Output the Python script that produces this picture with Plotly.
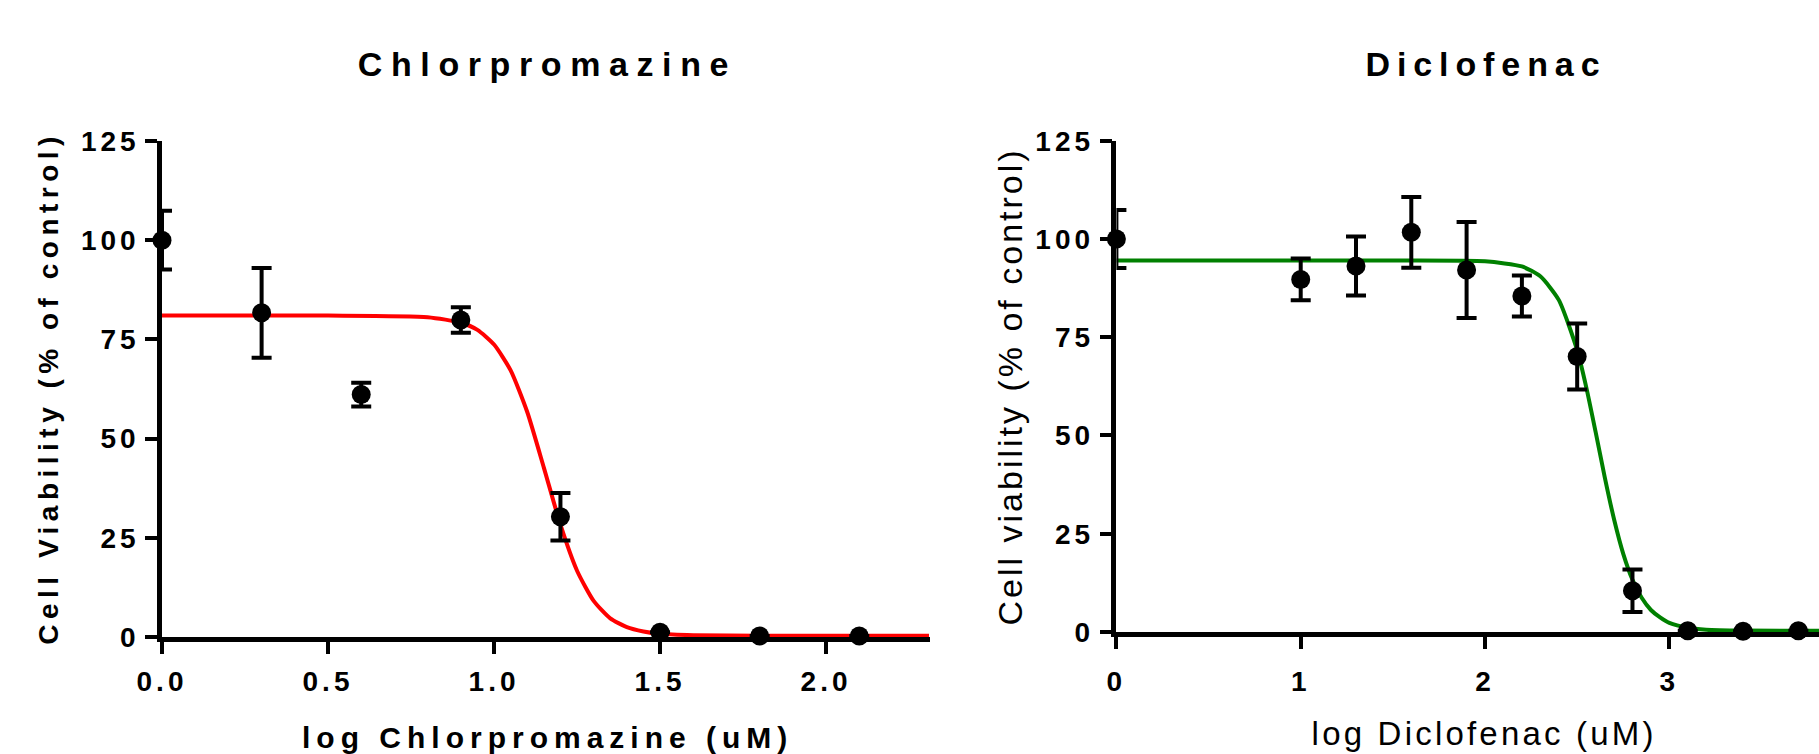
import plotly.graph_objects as go

# ---------------- data ----------------
chl_x = [0.0, 0.3, 0.6, 0.9, 1.2, 1.5, 1.8, 2.1]
chl_y = [100.0, 81.7, 61.1, 79.9, 30.3, 1.2, 0.25, 0.25]
chl_err = [7.4, 11.3, 3.0, 3.2, 6.0, 0.0, 0.0, 0.0]

chl_fit_x = [0.0, 0.5, 0.8, 0.9, 0.95, 1.0, 1.05, 1.1, 1.15, 1.2, 1.25, 1.3, 1.35, 1.4, 1.45, 1.5, 1.6, 1.8, 2.31]
chl_fit_y = [81.0, 81.0, 80.6, 79.2, 77.4, 73.7, 67.2, 56.7, 42.7, 28.3, 16.7, 9.1, 4.7, 2.5, 1.4, 0.8, 0.45, 0.32, 0.3]

dic_x = [0.0, 1.0, 1.3, 1.6, 1.9, 2.2, 2.5, 2.8, 3.1, 3.4, 3.7]
dic_y = [100.0, 89.7, 93.1, 101.7, 92.1, 85.5, 70.1, 10.5, 0.3, 0.2, 0.3]
dic_err = [7.4, 5.3, 7.5, 9.0, 12.2, 5.2, 8.4, 5.4, 0.0, 0.0, 0.0]

dic_fit_x = [0.0, 1.5, 2.0, 2.2, 2.3, 2.4, 2.5, 2.55, 2.6, 2.65, 2.7, 2.75, 2.8, 2.85, 2.9, 2.95, 3.0, 3.1, 3.2, 3.4, 3.82]
dic_fit_y = [94.5, 94.5, 94.3, 93.0, 90.5, 84.5, 71.7, 62.1, 50.9, 39.3, 28.7, 19.9, 13.3, 8.7, 5.6, 3.7, 2.3, 1.06, 0.58, 0.35, 0.3]

chl_xticks = [0.0, 0.5, 1.0, 1.5, 2.0]
chl_xtick_labels = ["0.0", "0.5", "1.0", "1.5", "2.0"]
dic_xticks = [0, 1, 2, 3]
dic_xtick_labels = ["0", "1", "2", "3"]
y_ticks = [0, 25, 50, 75, 100, 125]

titles = ["Chlorpromazine", "Diclofenac"]
x_titles = ["log Chlorpromazine (uM)", "log Diclofenac (uM)"]
y_titles = ["Cell Viability (% of control)", "Cell viability (% of control)"]

# ---------------- figure ----------------
W, H = 1819, 754
FONT = "Liberation Sans, Arial, sans-serif"

def px_x(p):
    return p / W

def px_y(p):
    return (H - p) / H

fig = go.Figure()

err_style = dict(type="data", symmetric=True, color="black", thickness=4, width=10)
marker_style = dict(color="black", size=19, symbol="circle")

fig.add_trace(go.Scatter(x=chl_fit_x, y=chl_fit_y, mode="lines", line=dict(color="#ff0000", width=4, shape="spline", smoothing=0.6),
                         xaxis="x", yaxis="y", showlegend=False, hoverinfo="skip"))
fig.add_trace(go.Scatter(x=chl_x, y=chl_y, mode="markers", marker=marker_style,
                         error_y=dict(array=chl_err, **err_style), xaxis="x", yaxis="y",
                         showlegend=False, cliponaxis=False))
fig.add_trace(go.Scatter(x=dic_fit_x, y=dic_fit_y, mode="lines", line=dict(color="#008000", width=4, shape="spline", smoothing=0.6),
                         xaxis="x2", yaxis="y2", showlegend=False, hoverinfo="skip"))
fig.add_trace(go.Scatter(x=dic_x, y=dic_y, mode="markers", marker=marker_style,
                         error_y=dict(array=dic_err, **err_style), xaxis="x2", yaxis="y2",
                         showlegend=False, cliponaxis=False))

axis_common = dict(showline=True, linecolor="black", linewidth=4.5, ticks="outside", ticklen=12,
                   tickwidth=4, tickcolor="black", showgrid=False, zeroline=False, automargin=False,
                   tickfont=dict(family=FONT, size=28, color="black", weight="bold"))

fig.update_layout(
    template="none",
    width=W, height=H,
    margin=dict(l=0, r=0, t=0, b=0, pad=0, autoexpand=False),
    paper_bgcolor="white", plot_bgcolor="white",
    showlegend=False,
    xaxis=dict(domain=[px_x(162), px_x(930)], range=[0, 2.313], tickvals=chl_xticks, ticktext=chl_xtick_labels,
               anchor="y", ticklabelstandoff=4, **axis_common),
    yaxis=dict(domain=[px_y(637), px_y(141)], range=[0, 125], tickvals=y_ticks,
               anchor="x", ticklabelstandoff=0, **axis_common),
    xaxis2=dict(domain=[px_x(1116.4), 1.0], range=[0, 3.812], tickvals=dic_xticks, ticktext=dic_xtick_labels,
                anchor="y2", ticklabelstandoff=9, **axis_common),
    yaxis2=dict(domain=[px_y(632), px_y(140.7)], range=[0, 125], tickvals=y_ticks,
                anchor="x2", ticklabelstandoff=0, **axis_common),
)

ann = []
# titles (index 0,1)
ann.append(dict(text=titles[0], x=px_x(547), y=px_y(64), font=dict(family=FONT, size=34, color="black", weight="bold")))
ann.append(dict(text=titles[1], x=px_x(1486), y=px_y(64), font=dict(family=FONT, size=34, color="black", weight="bold")))
# x titles (2,3)
ann.append(dict(text=x_titles[0], x=px_x(547), y=px_y(737), font=dict(family=FONT, size=30, color="black", weight="bold")))
ann.append(dict(text=x_titles[1], x=px_x(1484), y=px_y(733), font=dict(family=FONT, size=33, color="black")))
# y titles (4,5)
ann.append(dict(text=y_titles[0], x=px_x(48), y=px_y(388), textangle=-90, font=dict(family=FONT, size=28, color="black", weight="bold")))
ann.append(dict(text=y_titles[1], x=px_x(1010), y=px_y(387), textangle=-90, font=dict(family=FONT, size=34, color="black")))
for a in ann:
    a.update(xref="paper", yref="paper", xanchor="center", yanchor="middle", showarrow=False)
fig.update_layout(annotations=ann)

css = (
    "html, body {margin:0; padding:0; overflow:hidden;}"
    ".xtick text, .ytick text, .x2tick text, .y2tick text {letter-spacing: 4px;}"
    ".annotation[data-index='0'] text {letter-spacing: 8.6px;}"
    ".annotation[data-index='1'] text {letter-spacing: 6.9px;}"
    ".annotation[data-index='2'] text {letter-spacing: 6px;}"
    ".annotation[data-index='3'] text {letter-spacing: 3.2px;}"
    ".annotation[data-index='4'] text {letter-spacing: 5.5px;}"
    ".annotation[data-index='5'] text {letter-spacing: 3px;}"
)
post = "var s=document.createElement('style');s.innerHTML=\"" + css + "\";document.head.appendChild(s);"

fig.write_html("out.html", post_script=post)
